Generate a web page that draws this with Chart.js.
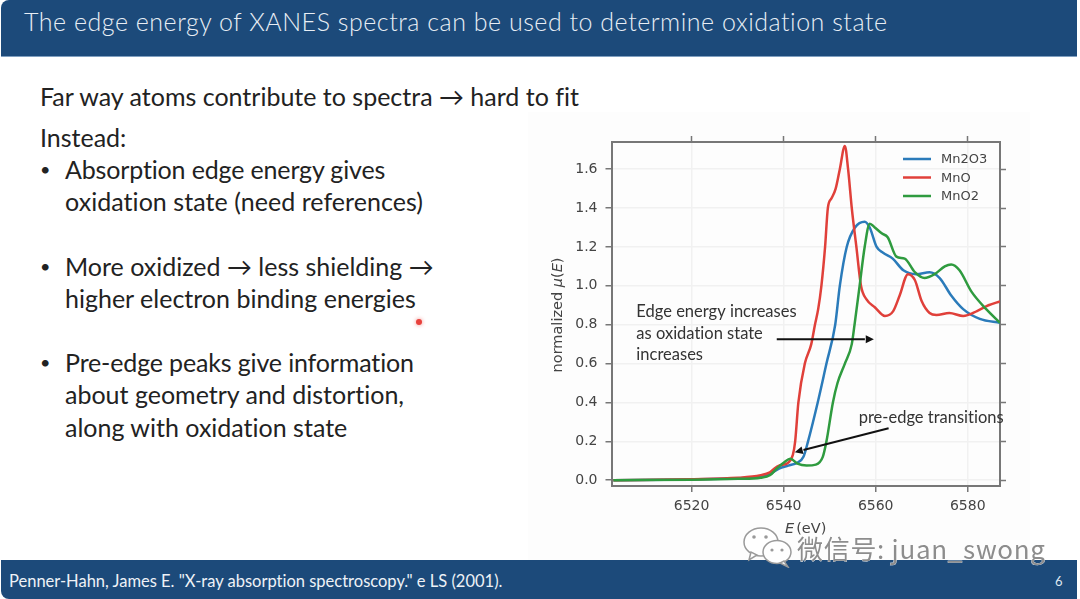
<!DOCTYPE html>
<html>
<head>
<meta charset="utf-8">
<title>XANES edge energy</title>
<script src="https://cdn.jsdelivr.net/npm/chart.js@4"></script>
<style>
  html, body { margin: 0; padding: 0; background: #fff; }
  #slide { position: relative; width: 1080px; height: 599px; overflow: hidden; background: #fff; font-family: Lato, sans-serif; font-variant-ligatures: none; }
  .band { position: absolute; left: 1px; width: 1076px; background: #1c4a7a; }
  #top { top: 0; height: 57px; border-top-left-radius: 8px; border-bottom: 1px solid #7f9fc0; box-sizing: border-box; }
  #bottom { top: 560px; height: 39px; border-bottom-left-radius: 8px; }
  .line { position: absolute; white-space: nowrap; color: #222; font-size: 25px; line-height: 32px; }
  .bullet { font-size: 18px; }
  #head { position: absolute; left: 24px; top: 4px; color: #e8eef5; font-size: 25px; line-height: 34px; font-weight: 300; white-space: nowrap; letter-spacing: 0.52px; }
  #cite { position: absolute; left: 9px; top: 570px; color: #eef2f7; font-size: 16.5px; line-height: 22px; white-space: nowrap; }
  #page { position: absolute; left: 1055px; top: 571px; color: #dfe7f0; font-size: 13px; line-height: 20px; }
  #imgbg { position: absolute; left: 528px; top: 112px; width: 502px; height: 448px; background: #fdfdfd; }
  #wrap { position: absolute; left: 530px; top: 112px; width: 500px; height: 448px; }
  #dot { position: absolute; left: 416px; top: 319px; width: 6px; height: 6px; border-radius: 50%; background: #e8413c; box-shadow: 0 0 4px #f08a86; }
  #mark { position: absolute; left: 797px; top: 528px; color: #8d8d8d; font-family: "Noto Sans CJK SC", sans-serif; font-size: 26px; line-height: 40px; white-space: nowrap; letter-spacing: 0.7px; -webkit-text-stroke: 0.6px #fff; paint-order: stroke fill; }
  #logo { position: absolute; left: 742px; top: 526px; }
</style>
</head>
<body>
<div id="slide">
  <div class="band" id="top"></div>
  <div id="head">The edge energy of XANES spectra can be used to determine oxidation state</div>

  <div class="line" style="left:40px;top:80px">Far way atoms contribute to spectra &#8594; hard to fit</div>
  <div class="line" style="left:40px;top:121px">Instead:</div>
  <div class="line bullet" style="left:40px;top:153px">&#8226;</div>
  <div class="line" style="left:65px;top:153px;letter-spacing:-0.15px">Absorption edge energy gives</div>
  <div class="line" style="left:65px;top:185px;letter-spacing:0.05px">oxidation state (need references)</div>
  <div class="line bullet" style="left:40px;top:250px">&#8226;</div>
  <div class="line" style="left:65px;top:250px">More oxidized &#8594; less shielding &#8594;</div>
  <div class="line" style="left:65px;top:282px">higher electron binding energies</div>
  <div class="line bullet" style="left:40px;top:346px">&#8226;</div>
  <div class="line" style="left:65px;top:346px;letter-spacing:-0.15px">Pre-edge peaks give information</div>
  <div class="line" style="left:65px;top:378px">about geometry and distortion,</div>
  <div class="line" style="left:65px;top:411px">along with oxidation state</div>
  <div id="dot"></div>

  <div id="imgbg"></div>
  <div id="wrap"><canvas id="xanesChart"></canvas></div>

  <div class="band" id="bottom"></div>
  <div id="cite">Penner-Hahn, James E. "X-ray absorption spectroscopy." e LS (2001).</div>
  <div id="page">6</div>

  <svg id="logo" width="52" height="42" viewBox="0 0 52 42">
    <ellipse cx="19" cy="16" rx="17" ry="14" fill="#fff" stroke="#9a9a9a" stroke-width="1.5"/>
    <path d="M9 26 L7 34 L15 29 Z" fill="#fff" stroke="#9a9a9a" stroke-width="1.5"/>
    <ellipse cx="35" cy="26" rx="14" ry="11.5" fill="#fff" stroke="#9a9a9a" stroke-width="1.5"/>
    <path d="M42 35 L46 41 L38 37 Z" fill="#fff" stroke="#9a9a9a" stroke-width="1.5"/>
    <circle cx="12" cy="11" r="1.8" fill="#9a9a9a"/><circle cx="24" cy="11" r="1.8" fill="#9a9a9a"/>
    <circle cx="30" cy="24" r="1.6" fill="#9a9a9a"/><circle cx="40" cy="24" r="1.6" fill="#9a9a9a"/>
  </svg>
  <div id="mark">&#24494;&#20449;&#21495;: juan_swong</div>
</div>

<script>
const xTicks = [6520, 6540, 6560, 6580];
const yTicks = [0, 0.2, 0.4, 0.6, 0.8, 1.0, 1.2, 1.4, 1.6];

const seriesNames = ["Mn2O3", "MnO", "MnO2"];
const seriesColors = ["#2b7bba", "#e0403a", "#2f9b3f"];

const energyMn2O3 = [6503, 6520, 6530, 6535, 6537, 6539, 6541, 6543, 6544.3, 6545.3, 6547.4, 6549.3, 6551.2, 6552.2, 6553.7, 6555.5, 6557.6, 6558.7, 6560.2, 6561.6, 6563.7, 6566, 6568.8, 6571.7, 6573.9, 6576.4, 6579, 6582.6, 6587];
const muMn2O3 = [0, 0.004, 0.01, 0.018, 0.03, 0.06, 0.075, 0.09, 0.12, 0.2, 0.4, 0.6, 0.8, 1.0, 1.2, 1.3, 1.33, 1.3, 1.2, 1.17, 1.14, 1.08, 1.06, 1.07, 1.04, 0.95, 0.88, 0.83, 0.81];

const energyMnO = [6503, 6520, 6530, 6535, 6537, 6538, 6539, 6540, 6541, 6542, 6542.5, 6543.2, 6544.6, 6546, 6546.8, 6547.5, 6548.2, 6549, 6549.6, 6550.4, 6551.3, 6552.2, 6553.3, 6554, 6554.8, 6555.8, 6556.8, 6558, 6559.8, 6562, 6563.8, 6565.2, 6567, 6568.5, 6570, 6571.7, 6573.2, 6576, 6579, 6582, 6584.5, 6587];
const muMnO = [0, 0.005, 0.012, 0.025, 0.04, 0.06, 0.075, 0.08, 0.09, 0.13, 0.2, 0.4, 0.6, 0.7, 0.8, 0.88, 1.0, 1.2, 1.4, 1.45, 1.5, 1.6, 1.72, 1.6, 1.4, 1.2, 1.0, 0.93, 0.89, 0.845, 0.87, 0.95, 1.06, 1.03, 0.92, 0.86, 0.85, 0.86, 0.845, 0.87, 0.9, 0.92];

const energyMnO2 = [6503, 6520, 6530, 6535, 6537, 6538.5, 6540, 6541.5, 6543, 6545, 6547, 6548.5, 6549.3, 6550.7, 6551.7, 6553.3, 6554.8, 6555.4, 6556.5, 6557.6, 6558.7, 6559.8, 6561.3, 6562.6, 6564.5, 6566.3, 6568.5, 6570.6, 6572.8, 6575, 6576.4, 6578.2, 6580.8, 6584, 6587];
const muMnO2 = [0, 0.002, 0.007, 0.013, 0.025, 0.06, 0.09, 0.11, 0.085, 0.075, 0.08, 0.12, 0.2, 0.4, 0.5, 0.6, 0.7, 0.8, 1.0, 1.2, 1.32, 1.3, 1.27, 1.25, 1.15, 1.14, 1.07, 1.04, 1.06, 1.1, 1.11, 1.08, 0.97, 0.88, 0.81];

const seriesEnergy = [energyMn2O3, energyMnO, energyMnO2];
const seriesMu = [muMn2O3, muMnO, muMnO2];

const tickFont = { family: "'DejaVu Sans'", size: 14 };
const spine = "#777777";
const tickText = "#444444";
const gridColor = "#f1f1f1";

function arrow(ctx, x1, y1, x2, y2) {
  const a = Math.atan2(y2 - y1, x2 - x1);
  const size = 9;
  ctx.strokeStyle = "#111";
  ctx.fillStyle = "#111";
  ctx.lineWidth = 2;
  ctx.beginPath();
  ctx.moveTo(x1, y1);
  ctx.lineTo(x2 - size * Math.cos(a), y2 - size * Math.sin(a));
  ctx.stroke();
  ctx.beginPath();
  ctx.moveTo(x2, y2);
  ctx.lineTo(x2 - size * Math.cos(a - 0.45), y2 - size * Math.sin(a - 0.45));
  ctx.lineTo(x2 - size * Math.cos(a + 0.45), y2 - size * Math.sin(a + 0.45));
  ctx.closePath();
  ctx.fill();
}

// notes, arrows, legend and the axis titles with italic letters
const overlay = {
  id: "overlay",
  afterDatasetsDraw(chart) {
    const ctx = chart.ctx;
    const sx = chart.scales.x;
    const sy = chart.scales.y;
    const area = chart.chartArea;
    ctx.save();
    ctx.textBaseline = "middle";
    ctx.textAlign = "left";

    // legend
    ctx.font = "13px 'DejaVu Sans'";
    seriesNames.forEach((name, i) => {
      const y = area.top + 17 + i * 18.5;
      ctx.strokeStyle = seriesColors[i];
      ctx.lineWidth = 2.5;
      ctx.beginPath();
      ctx.moveTo(area.right - 97, y);
      ctx.lineTo(area.right - 69, y);
      ctx.stroke();
      ctx.fillStyle = tickText;
      ctx.fillText(name, area.right - 59, y + 1);
    });

    // notes
    ctx.fillStyle = "#333";
    ctx.font = "16.5px Lato";
    ctx.textRendering = "optimizeSpeed";
    ctx.fillText("Edge energy increases", sx.getPixelForValue(6508), sy.getPixelForValue(0.869));
    ctx.fillText("as oxidation state", sx.getPixelForValue(6508), sy.getPixelForValue(0.756));
    ctx.fillText("increases", sx.getPixelForValue(6508), sy.getPixelForValue(0.648));
    ctx.fillText("pre-edge transitions", sx.getPixelForValue(6556.3), sy.getPixelForValue(0.319));
    ctx.textRendering = "auto";

    arrow(ctx, sx.getPixelForValue(6538.5), sy.getPixelForValue(0.725), sx.getPixelForValue(6559.6), sy.getPixelForValue(0.725));
    arrow(ctx, sx.getPixelForValue(6562.8), sy.getPixelForValue(0.267), sx.getPixelForValue(6542.4), sy.getPixelForValue(0.144));

    // x axis title
    ctx.fillStyle = tickText;
    const titleY = area.bottom + 43;
    ctx.font = "italic 14.5px 'DejaVu Sans'";
    let x = sx.getPixelForValue(6540.3);
    ctx.fillText("E", x, titleY);
    x += ctx.measureText("E").width + 2;
    ctx.font = "14.5px 'DejaVu Sans'";
    ctx.fillText("(eV)", x, titleY);

    // y axis title, rotated
    ctx.translate(area.left - 53, sy.getPixelForValue(0.85));
    ctx.rotate(-Math.PI / 2);
    const parts = [["normalized ", ""], ["\u03bc", "italic "], ["(", ""], ["E", "italic "], [")", ""]];
    let total = 0;
    parts.forEach(p => {
      ctx.font = p[1] + "14.5px 'DejaVu Sans'";
      total += ctx.measureText(p[0]).width;
    });
    let pos = -total / 2;
    parts.forEach(p => {
      ctx.font = p[1] + "14.5px 'DejaVu Sans'";
      ctx.fillText(p[0], pos, 0);
      pos += ctx.measureText(p[0]).width;
    });
    ctx.restore();
  }
};

function fixedSize(prop, value) {
  return scale => { scale[prop] = value; };
}

const chart = new Chart(document.getElementById("xanesChart").getContext("2d"), {
  type: "scatter",
  data: {
    datasets: seriesNames.map((name, i) => ({
      label: name,
      data: seriesEnergy[i].map((e, j) => ({ x: e, y: seriesMu[i][j] })),
      showLine: true,
      borderColor: seriesColors[i],
      borderWidth: 2.5,
      pointRadius: 0,
      cubicInterpolationMode: "monotone",
      order: 3 - i
    }))
  },
  options: {
    responsive: true,
    maintainAspectRatio: false,
    animation: false,
    layout: { padding: 0 },
    plugins: {
      legend: { display: false },
      tooltip: { enabled: false }
    },
    scales: {
      x: {
        type: "linear",
        position: "bottom",
        min: 6502.6,
        max: 6587,
        afterBuildTicks: s => { s.ticks = xTicks.map(v => ({ value: v })); },
        afterFit: fixedSize("height", 74),
        ticks: { font: tickFont, color: tickText, padding: 6, maxRotation: 0, callback: v => String(v) },
        grid: { color: gridColor, lineWidth: 1.5, tickColor: spine, tickLength: 6, tickWidth: 1.5 },
        border: { color: spine, width: 2 }
      },
      y: {
        type: "linear",
        position: "left",
        min: -0.03,
        max: 1.74,
        afterBuildTicks: s => { s.ticks = yTicks.map(v => ({ value: v })); },
        afterFit: fixedSize("width", 81.5),
        ticks: { font: tickFont, color: tickText, padding: 8, callback: v => v.toFixed(1) },
        grid: { color: gridColor, lineWidth: 1.5, tickColor: spine, tickLength: 6, tickWidth: 1.5 },
        border: { color: spine, width: 2 }
      },
      xTop: {
        type: "linear",
        position: "top",
        min: 6502.6,
        max: 6587,
        afterBuildTicks: s => { s.ticks = xTicks.map(v => ({ value: v })); },
        afterFit: fixedSize("height", 30),
        ticks: { display: false },
        grid: { drawOnChartArea: false, tickColor: spine, tickLength: 6, tickWidth: 1.5 },
        border: { color: spine, width: 2 }
      },
      yRight: {
        type: "linear",
        position: "right",
        min: -0.03,
        max: 1.74,
        afterBuildTicks: s => { s.ticks = yTicks.map(v => ({ value: v })); },
        afterFit: fixedSize("width", 30),
        ticks: { display: false },
        grid: { drawOnChartArea: false, tickColor: spine, tickLength: 6, tickWidth: 1.5 },
        border: { color: spine, width: 2 }
      }
    }
  },
  plugins: [overlay]
});
</script>
</body>
</html>
